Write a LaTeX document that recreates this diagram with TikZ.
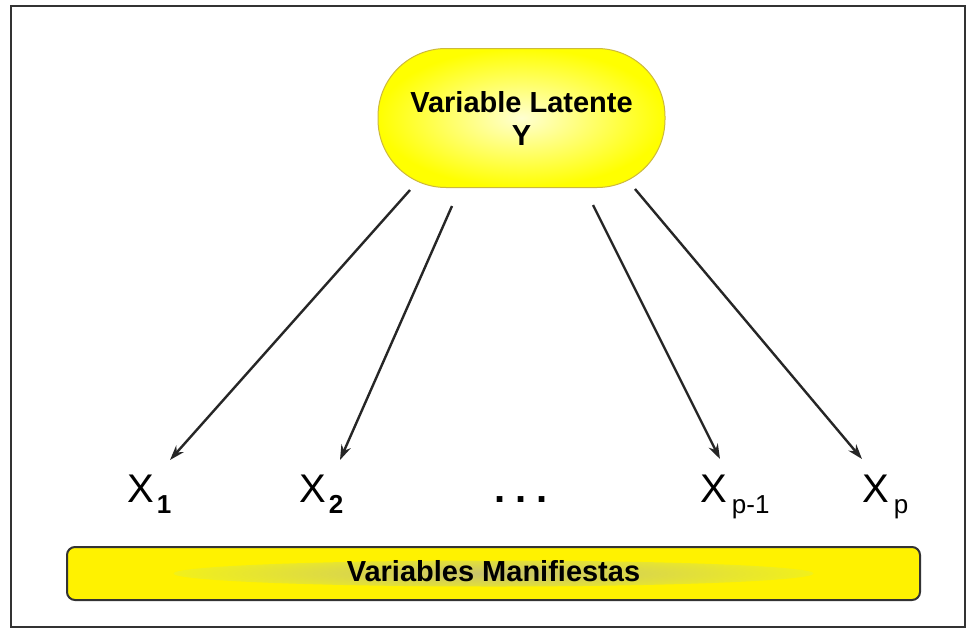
\documentclass[tikz,border=0pt]{standalone}
\usepackage{fontspec}
\usepackage{graphicx}
\setmainfont{Liberation Sans}
\usetikzlibrary{arrows.meta}
\definecolor{goldline}{RGB}{205,185,60}
\definecolor{sheen}{RGB}{200,195,110}
\newcommand\subB[1]{\raisebox{-11pt}{\fontsize{26}{26}\selectfont\bfseries #1}}
\newcommand\subR[1]{\raisebox{-11pt}{\fontsize{26}{26}\selectfont #1}}
\begin{document}
\begin{tikzpicture}[x=1pt,y=-1pt,
  latbox/.style={draw=goldline, line width=1pt, rounded corners=68pt,
    minimum width=287pt, minimum height=139pt, inner sep=0pt, align=center,
    font=\fontsize{29}{33}\selectfont\bfseries,
    inner color=yellow!18!white, outer color=yellow},
  barbox/.style={draw=black!80, line width=2pt, rounded corners=8pt,
    fill=yellow, minimum width=853pt, minimum height=53pt, inner sep=0pt,
    font=\fontsize{29}{29}\selectfont\bfseries,
    path picture={\shade[inner color=sheen, outer color=yellow]
      (path picture bounding box.center) ellipse [x radius=320pt, y radius=13pt];}},
  xlab/.style={font=\fontsize{40}{40}\selectfont, inner sep=0pt, anchor=base west},
  arr/.style={line width=2.4pt, draw=black!85, -{Stealth[length=15pt,width=10pt]}}
]
\useasboundingbox (0,0) rectangle (967,630);
\fill[white] (0,0) rectangle (967,630);
\draw[line width=2pt, black!80] (11,6) rectangle (965,627);

\node[latbox] (lat) at (521.5,118) {Variable Latente\\Y};
\node[barbox] (man) at (493.5,573.5) {\rule[-6pt]{0pt}{24pt}Variables Manifiestas};

\node[xlab] (x1) at (127,502) {X\kern3pt\subB{1}};
\node[xlab] (x2) at (299,502) {X\kern3pt\subB{2}};
\node[font=\fontsize{40}{40}\selectfont\bfseries, inner sep=0pt, anchor=base] (dots) at (521,502) {.\kern10pt.\kern10pt.};
\node[xlab] (xp1) at (700,502) {X\kern5pt\subR{p-1}};
\node[xlab] (xp) at (862,502) {X\kern5pt\subR{p}};

\coordinate (s1) at (410,190);
\coordinate (s2) at (452,206);
\coordinate (s3) at (593,205);
\coordinate (s4) at (635,189);
\coordinate (t1) at (170,460);
\coordinate (t2) at (340,460);
\coordinate (t3) at (720,459);
\coordinate (t4) at (862,459);

\draw[arr] (s1) -- (t1);
\draw[arr] (s2) -- (t2);
\draw[arr] (s3) -- (t3);
\draw[arr] (s4) -- (t4);
\end{tikzpicture}
\end{document}
